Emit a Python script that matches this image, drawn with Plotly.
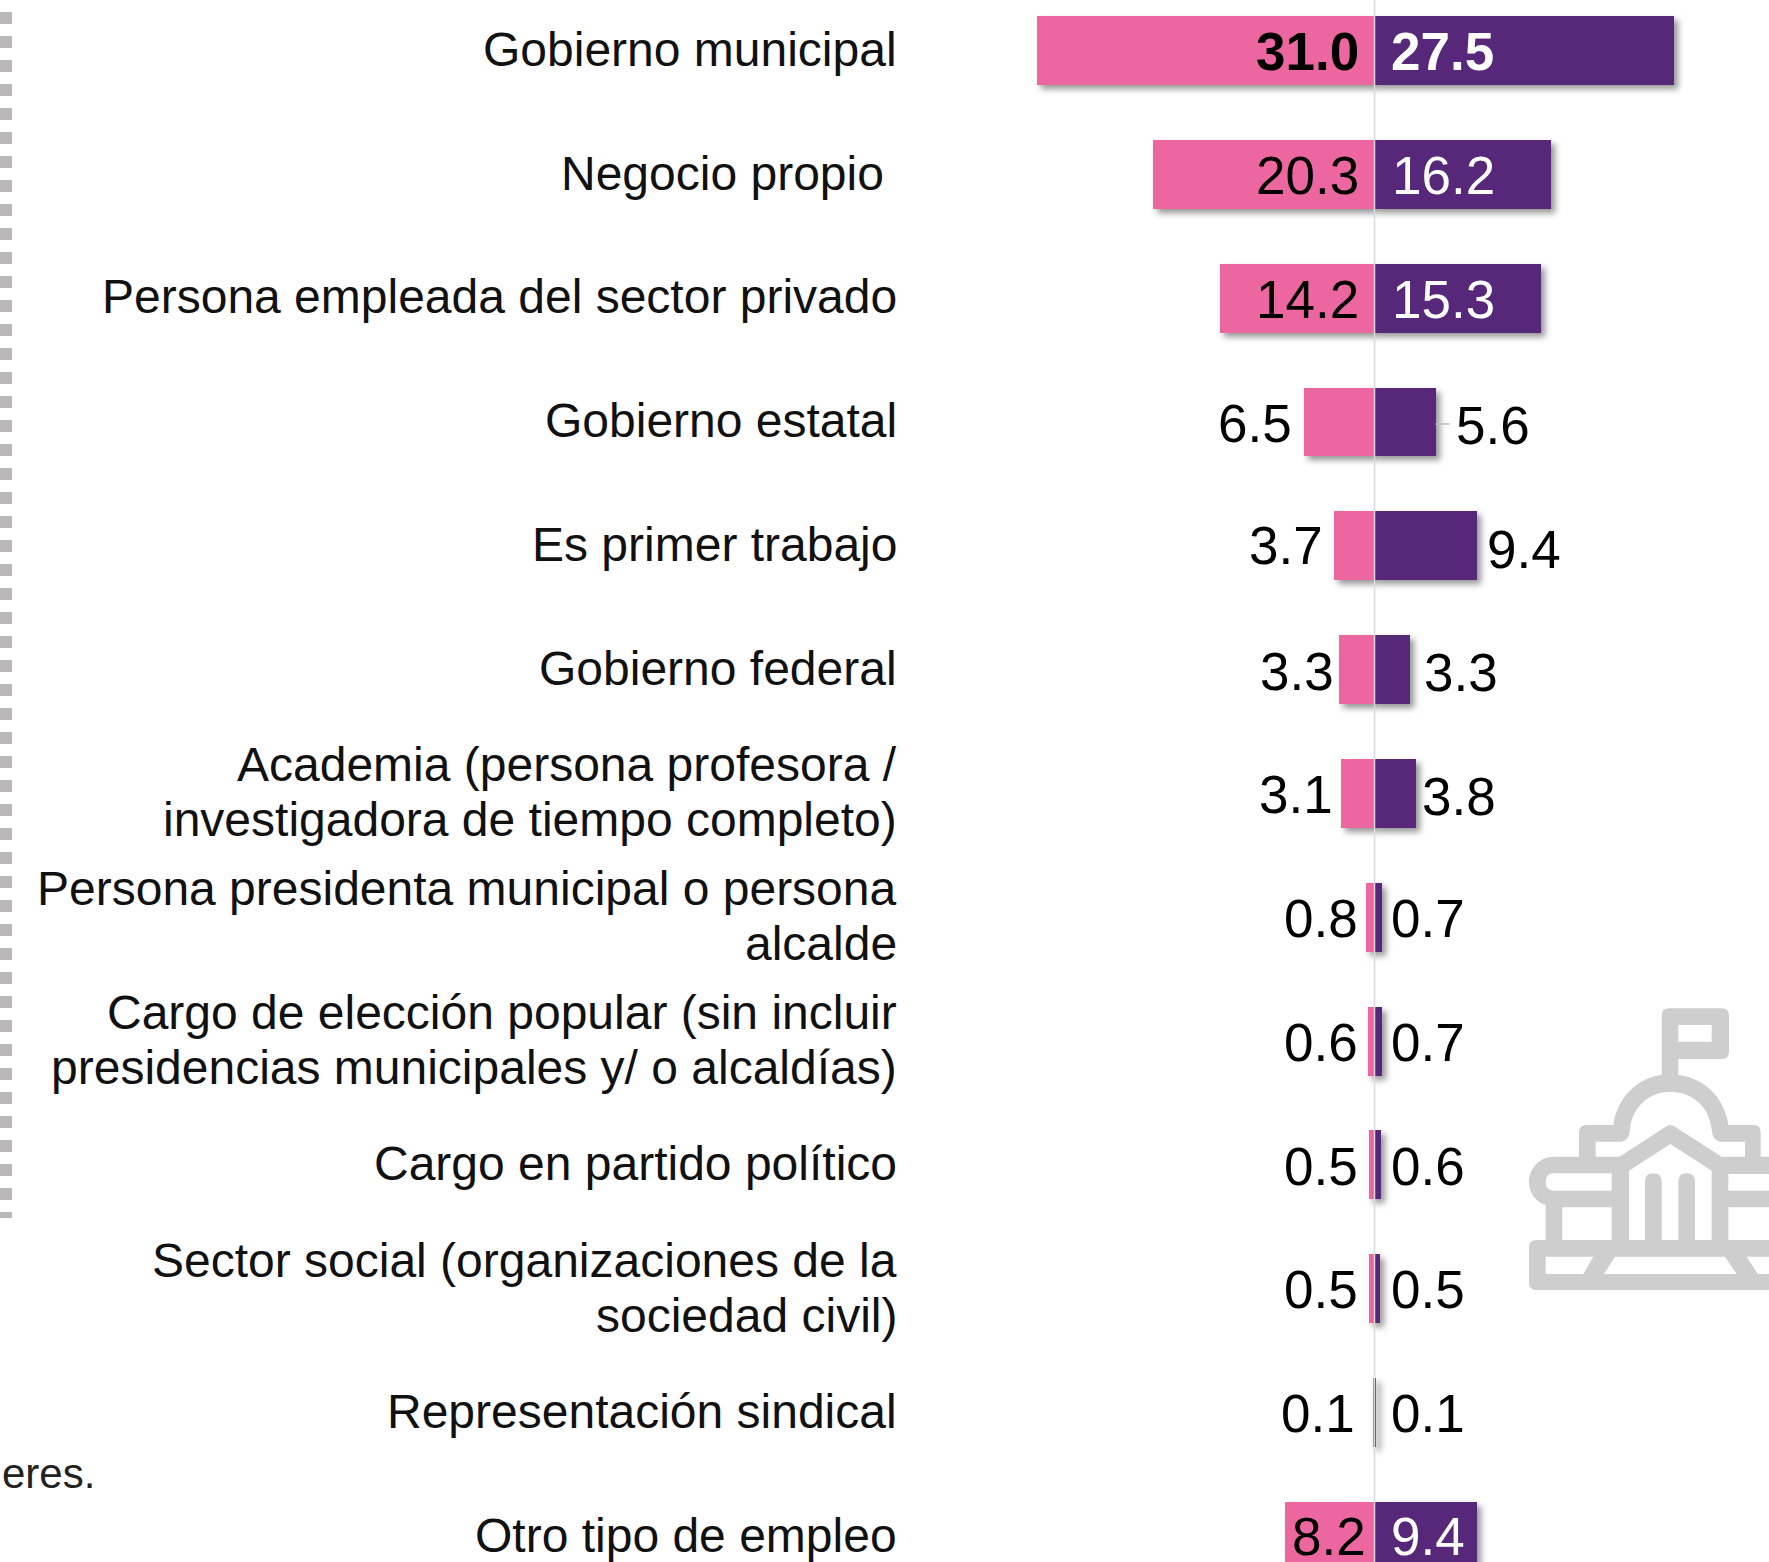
import plotly.graph_objects as go

W, H = 1769, 1562

categories = [
    "Gobierno municipal",
    "Negocio propio\u00a0",
    "Persona empleada del sector privado",
    "Gobierno estatal",
    "Es primer trabajo",
    "Gobierno federal",
    "Academia (persona profesora /<br>investigadora de tiempo completo)",
    "Persona presidenta municipal o persona<br>alcalde",
    "Cargo de elección popular (sin incluir<br>presidencias municipales y/ o alcaldías)",
    "Cargo en partido político",
    "Sector social (organizaciones de la<br>sociedad civil)",
    "Representación sindical",
    "Otro tipo de empleo",
]
mujeres = [31.0, 20.3, 14.2, 6.5, 3.7, 3.3, 3.1, 0.8, 0.6, 0.5, 0.5, 0.1, 8.2]
hombres = [27.5, 16.2, 15.3, 5.6, 9.4, 3.3, 3.8, 0.7, 0.7, 0.6, 0.5, 0.1, 9.4]

PINK, PURPLE = "#EC679F", "#57277A"
FONT = "Liberation Sans, Arial, sans-serif"

# label placement (pixels from the zero line / row centre)
cat_dy = [1, 1, 2, 1, 1, 1, 1, 1, 1, 1, 1, 1, 1]
left_dx = [-14, -14, -14, -81, -50, -39, -40, -15, -15, -15, -15, -18, -7]
right_dx = [14, 15, 15, 79, 110, 47, 45, 14, 14, 14, 14, 14, 14]
left_dy = [1, 1, 1, 2, 0, 2, 1, 1, 1, 2, 1, 1, 0]
right_dy = [1, 1, 1, 4, 4, 3, 3, 1, 1, 2, 1, 1, 0]
right_white = [True, True, True, False, False, False, False, False, False, False, False, False, True]

ZERO_PX, UNIT_PX, PLOT_LEFT = 1374.5, 10.9, 905
ROW0_PX, ROW_PX = 50.5, 123.83
LABEL_RIGHT_PX = 899

fig = go.Figure()
fig.add_bar(y=categories, x=[-v for v in mujeres], name="Mujeres", orientation="h",
            marker=dict(color=PINK, line_width=0), width=0.557)
fig.add_bar(y=categories, x=hombres, name="Hombres", orientation="h",
            marker=dict(color=PURPLE, line_width=0), width=0.557)

ann = []
for i, cat in enumerate(categories):
    lines = cat.split("<br>")
    for k, ln in enumerate(lines):
        ann.append(dict(x=LABEL_RIGHT_PX / W, xref="paper", xanchor="right", y=cat, yref="y", yanchor="middle",
                        yshift=-55 * (k - (len(lines) - 1) / 2) + cat_dy[i],
                        text=ln, showarrow=False, font=dict(family=FONT, size=48, color="#111111")))
    bold = i == 0
    fmt = (lambda s: f"<b>{s}</b>") if bold else (lambda s: s)
    ann.append(dict(x=0, xref="x", xanchor="right", y=cat, yref="y", yanchor="middle",
                    xshift=left_dx[i], yshift=-left_dy[i], text=fmt(f"{mujeres[i]:.1f}"), showarrow=False,
                    font=dict(family=FONT, size=53, color="#000000")))
    ann.append(dict(x=0, xref="x", xanchor="left", y=cat, yref="y", yanchor="middle",
                    xshift=right_dx[i], yshift=-right_dy[i], text=fmt(f"{hombres[i]:.1f}"), showarrow=False,
                    font=dict(family=FONT, size=53, color="#FFFFFF" if right_white[i] else "#000000")))
ann.append(dict(x=0, xref="paper", xanchor="left", y=1 - 1473 / H, yref="paper", yanchor="middle",
                text="eres.", showarrow=False, font=dict(family=FONT, size=42, color="#222222")))

# Decorative building icon, outlined in reference-crop units
def ix(v): return (1510 + v / 3) / W
def iy(v): return 1 - (1000 + v / 3) / H
def P(*pts):
    out = []
    for p in pts:
        if isinstance(p, str):
            out.append(p)
        else:
            out.append(f"{ix(p[0]):.5f},{iy(p[1]):.5f}")
    return " ".join(out)

outer = P("M", (477, 25), "L", (635, 25), "Q", (657, 25), (657, 47), "L", (657, 155), "Q", (657, 177), (635, 177),
          "L", (505, 177), "L", (505, 225), "C", (590, 235), (645, 300), (655, 375), "L", (730, 375),
          "Q", (752, 375), (752, 397), "L", (752, 470), "L", (800, 470), "L", (800, 870), "L", (80, 870),
          "Q", (57, 870), (57, 848), "L", (57, 742), "Q", (57, 720), (80, 720), "L", (107, 720), "L", (107, 615),
          "C", (75, 605), (57, 575), (57, 545), "C", (57, 505), (90, 470), (130, 470), "L", (207, 470),
          "L", (207, 397), "Q", (207, 375), (230, 375), "L", (310, 375), "C", (320, 300), (375, 235), (455, 225),
          "L", (455, 47), "Q", (455, 25), (477, 25), "Z")
holes = [
    P("M", (505, 75), "L", (605, 75), "L", (605, 125), "L", (505, 125), "Z"),
    P("M", (257, 425), "L", (335, 425), "Q", (358, 420), (360, 390), "C", (365, 320), (420, 275), (481, 275),
      "C", (545, 275), (600, 320), (605, 390), "Q", (607, 420), (630, 425), "L", (705, 425), "L", (705, 470),
      "L", (635, 470), "L", (495, 380), "Q", (481, 370), (467, 380), "L", (328, 470), "L", (257, 470), "Z"),
    P("M", (357, 512), "L", (481, 432), "L", (605, 512), "L", (605, 720), "L", (555, 720), "L", (555, 545),
      "Q", (555, 520), (530, 520), "Q", (505, 520), (505, 545), "L", (505, 720), "L", (455, 720), "L", (455, 545),
      "Q", (455, 520), (430, 520), "Q", (405, 520), (405, 545), "L", (405, 720), "L", (357, 720), "Z"),
    P("M", (130, 520), "L", (305, 520), "L", (305, 572), "L", (130, 572), "Q", (107, 570), (107, 546),
      "Q", (107, 522), (130, 520), "Z"),
    P("M", (157, 622), "L", (305, 622), "L", (305, 720), "L", (157, 720), "Z"),
    P("M", (655, 522), "L", (800, 522), "L", (800, 572), "L", (655, 572), "Z"),
    P("M", (655, 622), "L", (800, 622), "L", (800, 720), "L", (655, 720), "Z"),
    P("M", (107, 770), "L", (250, 770), "L", (220, 822), "L", (107, 822), "Z"),
    P("M", (315, 770), "L", (645, 770), "L", (680, 822), "L", (282, 822), "Z"),
    P("M", (710, 770), "L", (800, 770), "L", (800, 822), "L", (743, 822), "Z"),
]

shapes = [
    dict(type="line", xref="x", yref="paper", x0=0, x1=0, y0=0, y1=1, layer="above",
         line=dict(color="#D9D9D9", width=1.5)),
    dict(type="line", xref="x", yref="y", x0=hombres[3], x1=hombres[3] + 1.3, y0=3.016, y1=3.016,
         line=dict(color="#BFBFBF", width=1.5)),
    dict(type="line", xref="paper", yref="paper", x0=6 / W, x1=6 / W, y0=1 + 12 / H, y1=1 - 1218 / H,
         line=dict(color="#BDB8B8", width=12, dash="12px,12px")),
    dict(type="path", xref="paper", yref="paper", path=outer + " " + " ".join(holes), fillrule="evenodd",
         fillcolor="#CECECE", line=dict(width=0), layer="below"),
]

fig.update_layout(
    width=W, height=H, margin=dict(l=0, r=0, t=0, b=0, pad=0), autosize=False,
    paper_bgcolor="#FFFFFF", plot_bgcolor="rgba(0,0,0,0)", barmode="overlay", bargap=0,
    showlegend=False, annotations=ann, shapes=shapes,
    font=dict(family=FONT),
    xaxis=dict(domain=[PLOT_LEFT / W, 1], range=[-(ZERO_PX - PLOT_LEFT) / UNIT_PX, (W - ZERO_PX) / UNIT_PX],
               visible=False, fixedrange=True),
    yaxis=dict(type="category", categoryorder="array", categoryarray=categories, domain=[0, 1],
               range=[(H - ROW0_PX) / ROW_PX, -ROW0_PX / ROW_PX], visible=False, fixedrange=True),
)

post = """
document.body.style.margin = '0';
document.documentElement.style.overflow = 'hidden';
var st = document.createElement('style');
st.textContent = '.barlayer .point path{filter:drop-shadow(4px 4px 3px rgba(0,0,0,0.42));}';
document.head.appendChild(st);
"""
fig.write_html("out.html", post_script=post, config={"displayModeBar": False})
